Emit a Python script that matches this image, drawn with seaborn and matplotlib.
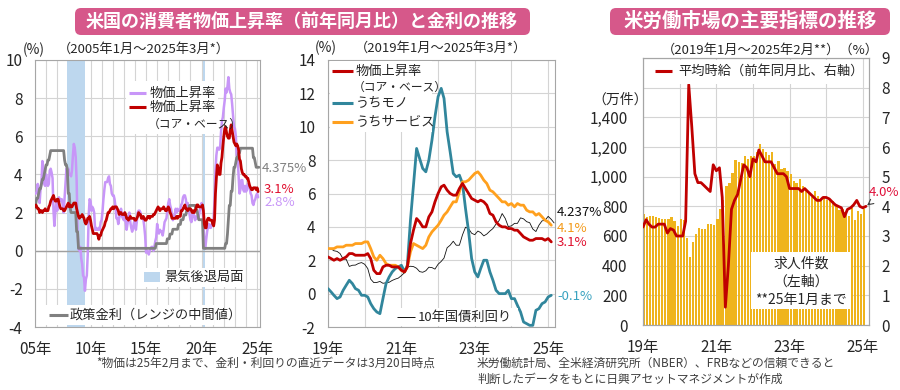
import numpy as np
import pandas as pd
import matplotlib
matplotlib.use("Agg")
import matplotlib.pyplot as plt
import matplotlib.dates as mdates
from matplotlib.lines import Line2D
from matplotlib.patches import FancyBboxPatch
from matplotlib.ticker import FuncFormatter
import seaborn as sns

# ---- データ（前年同月比、%） ----
# 米CPI 総合 2005年1月～2025年2月
cpi_headline = [
    3.0, 3.0, 3.1, 3.5, 2.8, 2.5, 3.2, 3.6, 4.7, 4.3, 3.5, 3.4,
    4.0, 3.6, 3.4, 3.5, 4.2, 4.3, 4.1, 3.8, 2.1, 1.3, 2.0, 2.5,
    2.1, 2.4, 2.8, 2.6, 2.7, 2.7, 2.4, 2.0, 2.8, 3.5, 4.3, 4.1,
    4.3, 4.0, 4.0, 3.9, 4.2, 5.0, 5.6, 5.4, 4.9, 3.7, 1.1, 0.1,
    0.0, 0.2, -0.4, -0.7, -1.3, -1.4, -2.1, -1.5, -1.3, -0.2, 1.8, 2.7,
    2.6, 2.1, 2.3, 2.2, 2.0, 1.1, 1.2, 1.1, 1.1, 1.2, 1.1, 1.5,
    1.6, 2.1, 2.7, 3.2, 3.6, 3.6, 3.6, 3.8, 3.9, 3.5, 3.4, 3.0,
    2.9, 2.9, 2.7, 2.3, 1.7, 1.7, 1.4, 1.7, 2.0, 2.2, 1.8, 1.7,
    1.6, 2.0, 1.5, 1.1, 1.4, 1.8, 2.0, 1.5, 1.2, 1.0, 1.2, 1.5,
    1.6, 1.1, 1.5, 2.0, 2.1, 2.1, 2.0, 1.7, 1.7, 1.7, 1.3, 0.8,
    -0.1, 0.0, -0.1, -0.2, 0.0, 0.1, 0.2, 0.2, 0.0, 0.2, 0.5, 0.7,
    1.4, 1.0, 0.9, 1.1, 1.0, 1.0, 0.8, 1.1, 1.5, 1.6, 1.7, 2.1,
    2.5, 2.7, 2.4, 2.2, 1.9, 1.6, 1.7, 1.9, 2.2, 2.0, 2.2, 2.1,
    2.1, 2.2, 2.4, 2.5, 2.8, 2.9, 2.9, 2.7, 2.3, 2.5, 2.2, 1.9,
    1.6, 1.5, 1.9, 2.0, 1.8, 1.6, 1.8, 1.7, 1.7, 1.8, 2.1, 2.3,
    2.5, 2.3, 1.5, 0.3, 0.1, 0.6, 1.0, 1.3, 1.4, 1.2, 1.2, 1.4,
    1.4, 1.7, 2.6, 4.2, 5.0, 5.4, 5.4, 5.3, 5.4, 6.2, 6.8, 7.0,
    7.5, 7.9, 8.5, 8.3, 8.6, 9.1, 8.5, 8.3, 8.2, 7.7, 7.1, 6.5,
    6.4, 6.0, 5.0, 4.9, 4.0, 3.0, 3.2, 3.7, 3.7, 3.2, 3.1, 3.4,
    3.1, 3.2, 3.5, 3.4, 3.3, 3.0, 2.9, 2.5, 2.4, 2.6, 2.7, 2.9,
    3.0, 2.8,
]
# 米CPI コア 2005年1月～2025年2月
cpi_core = [
    2.3, 2.4, 2.3, 2.2, 2.2, 2.0, 2.1, 2.1, 2.0, 2.1, 2.1, 2.2,
    2.1, 2.1, 2.1, 2.3, 2.4, 2.6, 2.7, 2.8, 2.9, 2.7, 2.6, 2.6,
    2.7, 2.7, 2.5, 2.3, 2.2, 2.2, 2.2, 2.1, 2.1, 2.2, 2.3, 2.4,
    2.5, 2.3, 2.4, 2.3, 2.3, 2.4, 2.5, 2.5, 2.5, 2.2, 2.0, 1.8,
    1.7, 1.8, 1.8, 1.9, 1.8, 1.7, 1.5, 1.4, 1.5, 1.7, 1.7, 1.8,
    1.6, 1.3, 1.1, 0.9, 0.9, 0.9, 0.9, 0.9, 0.8, 0.6, 0.8, 0.8,
    1.0, 1.1, 1.2, 1.3, 1.5, 1.6, 1.8, 2.0, 2.0, 2.1, 2.2, 2.2,
    2.3, 2.2, 2.3, 2.3, 2.3, 2.2, 2.1, 1.9, 2.0, 2.0, 1.9, 1.9,
    1.9, 2.0, 1.9, 1.7, 1.7, 1.6, 1.7, 1.8, 1.7, 1.7, 1.7, 1.7,
    1.6, 1.6, 1.7, 1.8, 2.0, 1.9, 1.9, 1.7, 1.7, 1.8, 1.7, 1.6,
    1.6, 1.7, 1.8, 1.8, 1.7, 1.8, 1.8, 1.8, 1.9, 1.9, 2.0, 2.1,
    2.2, 2.3, 2.2, 2.1, 2.2, 2.2, 2.2, 2.3, 2.2, 2.1, 2.1, 2.2,
    2.3, 2.2, 2.0, 1.9, 1.7, 1.7, 1.7, 1.7, 1.7, 1.8, 1.7, 1.8,
    1.8, 1.8, 2.1, 2.1, 2.2, 2.3, 2.4, 2.2, 2.2, 2.1, 2.2, 2.2,
    2.2, 2.1, 2.0, 2.1, 2.0, 2.1, 2.2, 2.4, 2.4, 2.3, 2.3, 2.3,
    2.3, 2.4, 2.1, 1.4, 1.2, 1.2, 1.6, 1.7, 1.7, 1.6, 1.6, 1.6,
    1.4, 1.3, 1.6, 3.0, 3.8, 4.5, 4.3, 4.0, 4.0, 4.6, 4.9, 5.5,
    6.0, 6.4, 6.5, 6.2, 6.0, 5.9, 5.9, 6.3, 6.6, 6.3, 6.0, 5.7,
    5.6, 5.5, 5.6, 5.5, 5.3, 4.8, 4.7, 4.3, 4.1, 4.0, 4.0, 3.9,
    3.9, 3.8, 3.8, 3.6, 3.4, 3.3, 3.2, 3.2, 3.3, 3.3, 3.3, 3.2,
    3.3, 3.1,
]
# 政策金利（FF誘導目標レンジの中間値） 2005年1月～2025年3月
policy_rate = [
    2.25, 2.5, 2.75, 2.75, 3.0, 3.25, 3.25, 3.5, 3.75, 3.75, 4.0, 4.25,
    4.5, 4.5, 4.75, 4.75, 5.0, 5.25, 5.25, 5.25, 5.25, 5.25, 5.25, 5.25,
    5.25, 5.25, 5.25, 5.25, 5.25, 5.25, 5.25, 5.25, 4.75, 4.5, 4.5, 4.25,
    3.0, 3.0, 2.25, 2.0, 2.0, 2.0, 2.0, 2.0, 2.0, 1.0, 1.0, 0.125,
    0.125, 0.125, 0.125, 0.125, 0.125, 0.125, 0.125, 0.125, 0.125, 0.125, 0.125, 0.125,
    0.125, 0.125, 0.125, 0.125, 0.125, 0.125, 0.125, 0.125, 0.125, 0.125, 0.125, 0.125,
    0.125, 0.125, 0.125, 0.125, 0.125, 0.125, 0.125, 0.125, 0.125, 0.125, 0.125, 0.125,
    0.125, 0.125, 0.125, 0.125, 0.125, 0.125, 0.125, 0.125, 0.125, 0.125, 0.125, 0.125,
    0.125, 0.125, 0.125, 0.125, 0.125, 0.125, 0.125, 0.125, 0.125, 0.125, 0.125, 0.125,
    0.125, 0.125, 0.125, 0.125, 0.125, 0.125, 0.125, 0.125, 0.125, 0.125, 0.125, 0.125,
    0.125, 0.125, 0.125, 0.125, 0.125, 0.125, 0.125, 0.125, 0.125, 0.125, 0.125, 0.375,
    0.375, 0.375, 0.375, 0.375, 0.375, 0.375, 0.375, 0.375, 0.375, 0.375, 0.375, 0.625,
    0.625, 0.625, 0.875, 0.875, 0.875, 1.125, 1.125, 1.125, 1.125, 1.125, 1.125, 1.375,
    1.375, 1.375, 1.625, 1.625, 1.625, 1.875, 1.875, 1.875, 2.125, 2.125, 2.125, 2.375,
    2.375, 2.375, 2.375, 2.375, 2.375, 2.375, 2.125, 2.125, 1.875, 1.625, 1.625, 1.625,
    1.625, 1.625, 0.125, 0.125, 0.125, 0.125, 0.125, 0.125, 0.125, 0.125, 0.125, 0.125,
    0.125, 0.125, 0.125, 0.125, 0.125, 0.125, 0.125, 0.125, 0.125, 0.125, 0.125, 0.125,
    0.125, 0.125, 0.375, 0.375, 0.875, 1.625, 2.375, 2.375, 3.125, 3.125, 3.875, 4.375,
    4.375, 4.625, 4.875, 4.875, 5.125, 5.125, 5.375, 5.375, 5.375, 5.375, 5.375, 5.375,
    5.375, 5.375, 5.375, 5.375, 5.375, 5.375, 5.375, 5.375, 4.875, 4.875, 4.625, 4.375,
    4.375, 4.375, 4.375,
]
recessions = [("2007-12-01", "2009-06-30"), ("2020-02-01", "2020-04-30")]

# 2019年1月～2025年2月
core_goods = [
    0.3, 0.1, -0.1, -0.3, -0.2, 0.2, 0.5, 0.8, 0.6, 0.3, 0.2, -0.1,
    -0.1, -0.2, -0.6, -0.9, -1.1, -1.2, -0.3, 0.6, 1.0, 1.3, 1.5, 1.6,
    1.7, 1.3, 1.7, 4.4, 6.5, 8.7, 8.1, 7.5, 7.3, 8.0, 9.2, 10.6,
    11.8, 12.3, 11.7, 9.7, 8.5, 7.2, 7.0, 7.1, 6.6, 5.1, 3.7, 2.1,
    1.3, 1.0, 1.5, 2.0, 2.0, 1.3, 0.8, 0.2, 0.0, 0.0, 0.0, 0.2,
    -0.3, -0.3, -0.7, -1.1, -1.7, -1.8, -1.9, -1.9, -1.0, -0.9, -0.6, -0.5,
    -0.2, -0.1,
]
core_services = [
    2.7, 2.7, 2.7, 2.8, 2.8, 2.8, 2.9, 2.9, 2.9, 3.0, 3.0, 3.0,
    3.1, 3.1, 2.7, 2.2, 2.0, 2.3, 2.1, 1.8, 1.7, 1.7, 1.7, 1.6,
    1.4, 1.3, 1.6, 2.5, 3.0, 2.9, 2.8, 2.7, 2.9, 3.4, 3.7, 3.9,
    4.1, 4.4, 4.7, 4.9, 5.2, 5.5, 5.5, 6.1, 6.7, 6.7, 6.8, 7.0,
    7.2, 7.3, 7.1, 6.8, 6.6, 6.2, 6.1, 5.9, 5.7, 5.5, 5.5, 5.3,
    5.4, 5.2, 5.4, 5.3, 5.3, 5.0, 4.9, 4.9, 4.7, 4.8, 4.6, 4.4,
    4.3, 4.1,
]
# 10年国債利回り 2019年1月～2025年3月
ust10y = [
    2.71, 2.68, 2.57, 2.53, 2.40, 2.07, 2.06, 1.63, 1.70, 1.71, 1.81, 1.86,
    1.76, 1.50, 0.87, 0.66, 0.67, 0.73, 0.62, 0.65, 0.68, 0.79, 0.87, 0.93,
    1.08, 1.26, 1.61, 1.64, 1.62, 1.52, 1.32, 1.28, 1.37, 1.58, 1.56, 1.47,
    1.76, 1.93, 2.13, 2.75, 2.90, 3.14, 2.90, 2.90, 3.52, 3.98, 3.89, 3.62,
    3.53, 3.75, 3.66, 3.46, 3.57, 3.75, 3.90, 4.17, 4.38, 4.80, 4.50, 4.02,
    4.06, 4.21, 4.21, 4.54, 4.48, 4.31, 4.25, 3.87, 3.72, 4.10, 4.36, 4.39,
    4.63, 4.45, 4.237,
]

# 求人件数（万件） 2019年1月～2025年1月
job_openings = [
    748, 725, 732, 732, 725, 720, 714, 714, 714, 727, 702, 668,
    714, 709, 589, 459, 561, 611, 652, 645, 648, 680, 680, 675,
    716, 782, 845, 936, 959, 1027, 1111, 1100, 1095, 1141, 1118, 1141,
    1136, 1164, 1220, 1186, 1168, 1145, 1164, 1084, 1107, 1050, 1061, 1039,
    1016, 970, 959, 982, 936, 914, 891, 864, 902, 868, 841, 861,
    841, 845, 834, 800, 777, 782, 759, 732, 789, 709, 766, 748,
    782,
]
# 平均時給（前年同月比、%） 2019年1月～2025年2月
hourly_wage = [
    3.3, 3.55, 3.4, 3.3, 3.3, 3.4, 3.4, 3.4, 3.1, 3.25, 3.2, 3.0,
    3.0, 3.0, 3.5, 8.1, 6.7, 5.1, 4.8, 4.8, 4.7, 4.6, 4.5, 5.4,
    5.2, 5.3, 4.3, 0.6, 2.0, 3.9, 4.2, 4.4, 4.9, 5.4, 5.3, 5.0,
    5.6, 5.5, 5.9, 5.7, 5.5, 5.5, 5.5, 5.3, 5.1, 5.1, 5.1, 5.0,
    4.6, 4.6, 4.6, 4.6, 4.5, 4.6, 4.5, 4.4, 4.3, 4.2, 4.2, 4.3,
    4.3, 4.25, 4.15, 4.05, 4.0, 3.95, 3.65, 3.9, 3.95, 4.05, 4.2, 4.0,
    3.95, 4.0,
]

years_long = [2005, 2010, 2015, 2020, 2025]
years_short = [2019, 2021, 2023, 2025]

# ---- 色 ----
C_CPI = "#c896f8"
C_CORE = "#c00000"
C_POLICY = "#808080"
C_RECESSION = "#bdd7ee"
C_GOODS = "#31869c"
C_SERVICES = "#ffa01e"
C_BAR = "#efb41c"
C_TITLE = "#d6588a"
C_GRID = "#d4d4d4"
C_SPINE = "#a6a6a6"
C_TEXT = "#262626"

sns.set_theme(style="white")
plt.rcParams["font.family"] = ["Noto Sans CJK JP", "DejaVu Sans"]
plt.rcParams["xtick.labelsize"] = 11
plt.rcParams["ytick.labelsize"] = 11
plt.rcParams["xtick.color"] = C_TEXT
plt.rcParams["ytick.color"] = C_TEXT
plt.rcParams["axes.unicode_minus"] = False

W, H = 900, 390
fig = plt.figure(figsize=(W / 100, H / 100), dpi=100)


def px_axes(l, t, r, b):
    return fig.add_axes([l / W, 1 - b / H, (r - l) / W, (b - t) / H])


def fx(x):
    return x / W


def fy(y):
    return 1 - y / H


def put_text(x, y, s, size=9.5, color=C_TEXT, ha="left", va="center", **kw):
    fig.text(fx(x), fy(y), s, fontsize=size, color=color, ha=ha, va=va, **kw)


def put_line(x0, x1, y, color, lw):
    fig.add_artist(Line2D([fx(x0), fx(x1)], [fy(y), fy(y)], transform=fig.transFigure,
                          color=color, lw=lw, solid_capstyle="butt"))


def put_box(x0, y0, x1, y1, fc="white", rounding=0.0):
    style = f"round,pad=0,rounding_size={rounding}" if rounding else "square,pad=0"
    fig.add_artist(FancyBboxPatch((x0, H - y1), x1 - x0, y1 - y0, boxstyle=style,
                                  transform=None, fc=fc, ec="none", zorder=1))


def jan(y):
    return mdates.date2num(pd.Timestamp(f"{y}-01-01"))


def style_axes(ax):
    for sp in ax.spines.values():
        sp.set_color(C_SPINE)
        sp.set_linewidth(0.8)
    ax.set_axisbelow(True)
    ax.xaxis.set_minor_locator(mdates.YearLocator(1))
    ax.grid(True, which="both", axis="x", color=C_GRID, lw=0.8)
    ax.grid(True, which="major", axis="y", color=C_GRID, lw=0.8)
    ax.xaxis.set_major_formatter(mdates.DateFormatter("%y年"))
    ax.tick_params(axis="both", which="both", length=0)
    ax.tick_params(axis="x", pad=10)
    ax.tick_params(axis="y", pad=9)
    ax.set_xlabel("")
    ax.set_ylabel("")


m_long = pd.date_range("2005-01-01", periods=len(cpi_headline), freq="MS")
m_policy = pd.date_range("2005-01-01", periods=len(policy_rate), freq="MS")
m_short = pd.date_range("2019-01-01", periods=len(core_goods), freq="MS")
m_10y = pd.date_range("2019-01-01", periods=len(ust10y), freq="MS")
m_jobs = pd.date_range("2019-01-01", periods=len(job_openings), freq="MS")
m_wage = pd.date_range("2019-01-01", periods=len(hourly_wage), freq="MS")
core_recent = cpi_core[(2019 - 2005) * 12:]

# ---- 左：物価と金利 ----
ax1 = px_axes(35, 60, 260, 327)
for start, end in recessions:
    ax1.axvspan(pd.Timestamp(start), pd.Timestamp(end), color=C_RECESSION, lw=0, zorder=1)
ax1.axhline(0, color="#a0a0a0", lw=1.0, zorder=1.5)
sns.lineplot(x=m_long, y=cpi_headline, ax=ax1, color=C_CPI, lw=1.8, zorder=3)
sns.lineplot(x=m_policy, y=policy_rate, ax=ax1, color=C_POLICY, lw=2.0, zorder=4)
sns.lineplot(x=m_long, y=cpi_core, ax=ax1, color=C_CORE, lw=2.0, zorder=5)
ax1.set_ylim(-4, 10)
ax1.set_yticks(range(-4, 11, 2))
ax1.set_xlim(jan(2005), mdates.date2num(pd.Timestamp("2025-04-05")))
ax1.set_xticks([jan(y) for y in years_long])
style_axes(ax1)

put_text(23, 50, "(%)", size=10)
put_text(58, 49, "（2005年1月～2025年3月*）", size=9.5)
put_box(126, 81, 218, 134)
put_line(129, 146, 93, C_CPI, 2.2)
put_text(150, 93, "物価上昇率")
put_line(129, 146, 107, C_CORE, 2.2)
put_text(150, 107, "物価上昇率")
put_text(148, 124, "（コア・ベース）", size=8.5)
put_box(141, 268, 244, 287)
put_box(144, 272, 160, 282, fc=C_RECESSION)
put_text(164, 277, "景気後退局面")
put_box(45, 305, 214, 325)
put_line(49, 68, 315, C_POLICY, 2.2)
put_text(70, 315, "政策金利（レンジの中間値）")
put_text(262, 168, f"{policy_rate[-1]:.3f}%", color=C_POLICY)
put_text(264, 189, f"{cpi_core[-1]:.1f}%", color="#e0102f")
put_text(264, 202, f"{cpi_headline[-1]:.1f}%", color=C_CPI)

# ---- 中：内訳と長期金利 ----
ax2 = px_axes(328, 60, 555, 327)
sns.lineplot(x=m_10y, y=ust10y, ax=ax2, color="#111111", lw=0.6, zorder=3)
sns.lineplot(x=m_short, y=core_goods, ax=ax2, color=C_GOODS, lw=2.0, zorder=4)
sns.lineplot(x=m_short, y=core_services, ax=ax2, color=C_SERVICES, lw=2.0, zorder=5)
sns.lineplot(x=m_short, y=core_recent, ax=ax2, color=C_CORE, lw=2.0, zorder=6)
ax2.set_ylim(-2, 14)
ax2.set_yticks(range(-2, 15, 2))
ax2.set_xlim(jan(2019), mdates.date2num(pd.Timestamp("2025-03-10")))
ax2.set_xticks([jan(y) for y in years_short])
style_axes(ax2)

put_text(315, 48, "(%)", size=10)
put_text(355, 48, "（2019年1月～2025年3月*）", size=9.5)
put_box(330, 61, 432, 132)
put_line(332, 353, 71, C_CORE, 2.2)
put_text(356, 71, "物価上昇率")
put_text(353, 87, "（コア・ベース）", size=8.5)
put_line(332, 353, 103, C_GOODS, 2.2)
put_text(356, 103, "うちモノ")
put_line(332, 353, 122, C_SERVICES, 2.2)
put_text(356, 122, "うちサービス")
put_box(393, 308, 518, 326)
put_line(397, 415, 317, "#111111", 0.7)
put_text(418, 317, "10年国債利回り")
put_text(557, 213, f"{ust10y[-1]:.3f}%", color="#111111")
put_text(557, 229, f"{core_services[-1]:.1f}%", color="#f39a1a")
put_text(557, 243, f"{core_recent[-1]:.1f}%", color="#e0102f")
put_text(557, 296, f"{core_goods[-1]:.1f}%", color="#3aa3c0")

# ---- 右：労働市場 ----
ax3 = px_axes(643, 58, 869, 325)
ax3.bar(m_jobs, job_openings, width=22, align="edge", color=C_BAR, lw=0, zorder=2)
ax3.set_ylim(0, 1800)
ax3.set_yticks(range(0, 1801, 200))
ax3.yaxis.set_major_formatter(FuncFormatter(lambda v, p: f"{v:,.0f}" if v <= 1400 else ""))
ax3.set_xlim(jan(2019), mdates.date2num(pd.Timestamp("2025-03-03")))
ax3.set_xticks([jan(y) for y in years_short])
style_axes(ax3)
ax3.tick_params(axis="x", which="major", length=3, color=C_SPINE, pad=7)
ax3.tick_params(axis="y", pad=11)

ax3r = ax3.twinx()
sns.lineplot(x=m_wage, y=hourly_wage, ax=ax3r, color=C_CORE, lw=2.0, zorder=5)
ax3r.set_ylim(0, 9)
ax3r.set_yticks(range(0, 10))
ax3r.grid(False)
ax3r.set_ylabel("")
ax3r.tick_params(axis="y", length=0, pad=9)
for sp in ax3r.spines.values():
    sp.set_color(C_SPINE)
    sp.set_linewidth(0.8)
ax3r.annotate(f"{hourly_wage[-1]:.1f}%", xy=(m_wage[-1], hourly_wage[-1]),
              xytext=(869, H - 192), textcoords="figure pixels", color="#e0103a",
              fontsize=9.5, va="center", annotation_clip=False,
              arrowprops=dict(arrowstyle="->", color="#404040", lw=0.8, shrinkA=2, shrinkB=1))

put_text(662, 50, "（2019年1月～2025年2月**）（%）", size=9.5)
put_text(592, 100, "（万件）", size=10)
put_box(645, 60, 862, 84)
put_line(655, 672, 71, C_CORE, 2.2)
put_text(678, 71, "平均時給（前年同月比、右軸）")
put_box(751, 252, 851, 309)
put_text(801, 264, "求人件数", size=10, ha="center")
put_text(801, 282, "（左軸）", size=10, ha="center")
put_text(801, 300, "**25年1月まで", size=10, ha="center")

# ---- タイトル・注記 ----
put_box(75, 8, 530, 35, fc=C_TITLE, rounding=6)
put_text(302, 21, "米国の消費者物価上昇率（前年同月比）と金利の推移", size=13, color="white",
         ha="center", fontweight="bold", zorder=4)
put_box(610, 8, 890, 35, fc=C_TITLE, rounding=6)
put_text(750, 21, "米労働市場の主要指標の推移", size=14, color="white",
         ha="center", fontweight="bold", zorder=4)

put_text(96, 363, "*物価は25年2月まで、金利・利回りの直近データは3月20日時点", size=8.5, color="#404040")
put_text(477, 363, "米労働統計局、全米経済研究所（NBER）、FRBなどの信頼できると", size=8.5, color="#404040")
put_text(477, 379, "判断したデータをもとに日興アセットマネジメントが作成", size=8.5, color="#404040")

fig.savefig("out.png", dpi=100)
